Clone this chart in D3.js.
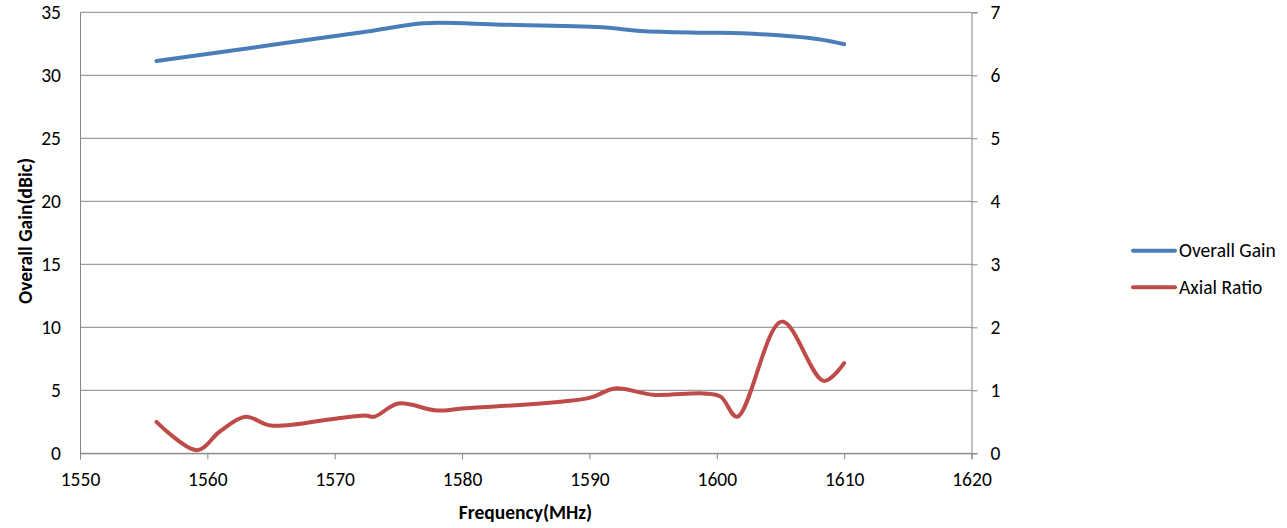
<!DOCTYPE html>
<html>
<head>
<meta charset="utf-8">
<script src="https://cdn.jsdelivr.net/npm/d3@7"></script>
<style>
  html, body { margin: 0; padding: 0; background: #fff; overflow: hidden; }
  svg { display: block; }
  svg text { font-family: Carlito, "Liberation Sans", Arial, sans-serif; fill: #000; }
</style>
</head>
<body>
<svg id="chart"></svg>
<script>
// values
const gainFreq = [1556, 1565, 1573, 1577, 1583, 1591, 1594, 1599, 1602, 1608, 1610];
const gainValues = [31.13, 32.4, 33.54, 34.13, 34.02, 33.81, 33.52, 33.38, 33.33, 32.86, 32.46];

const arFreq = [1556, 1559.2, 1561, 1563, 1565, 1570, 1572.4, 1573.1, 1575, 1578, 1580, 1590, 1592, 1595, 1599, 1600.3, 1601.6, 1605.1, 1608.4, 1610];
const arValues = [0.5, 0.05, 0.35, 0.58, 0.44, 0.55, 0.6, 0.58, 0.79, 0.68, 0.71, 0.88, 1.03, 0.93, 0.95, 0.9, 0.58, 2.09, 1.15, 1.43];

const xTicks = [1550, 1560, 1570, 1580, 1590, 1600, 1610, 1620];
const gainTicks = [0, 5, 10, 15, 20, 25, 30, 35];
const arTicks = [0, 1, 2, 3, 4, 5, 6, 7];

const seriesNames = ["Overall Gain", "Axial Ratio"];
const seriesColors = ["#4a7ebb", "#be4b48"];

const width = 1287, height = 528;
const margin = { top: 12.3, right: 315.5, bottom: 74.7, left: 80 };
const innerWidth = width - margin.left - margin.right,
  innerHeight = height - margin.top - margin.bottom;

const svg = d3.select("#chart").attr("width", width).attr("height", height);
const g = svg.append("g").attr("transform", `translate(${margin.left}, ${margin.top})`);

const xScale = d3.scaleLinear().domain([1550, 1620]).range([0, innerWidth]);
const yLeft = d3.scaleLinear().domain([0, 35]).range([innerHeight, 0]);
const yRight = d3.scaleLinear().domain([0, 7]).range([innerHeight, 0]);

const gridColor = "#868686";
const fontSize = "19.5px";

// gridlines
g.selectAll(".grid")
  .data(gainTicks)
  .join("line")
  .attr("class", "grid")
  .attr("x1", 0)
  .attr("x2", innerWidth)
  .attr("y1", (d) => yLeft(d))
  .attr("y2", (d) => yLeft(d))
  .attr("stroke", gridColor)
  .attr("stroke-width", 1);

// left axis
const leftAxis = g.append("g")
  .call(d3.axisLeft(yLeft).tickValues(gainTicks).tickSize(0).tickPadding(19));
leftAxis.select(".domain").attr("stroke", gridColor);
leftAxis.selectAll("text").style("font-size", fontSize);

// right axis
const rightAxis = g.append("g")
  .attr("transform", `translate(${innerWidth}, 0)`)
  .call(d3.axisRight(yRight).tickValues(arTicks).tickFormat(d3.format("d")).tickSize(6).tickPadding(13));
rightAxis.select(".domain").attr("stroke", gridColor);
rightAxis.selectAll("line").attr("stroke", gridColor);
rightAxis.selectAll("text").style("font-size", fontSize);

// bottom axis
const bottomAxis = g.append("g")
  .attr("transform", `translate(0, ${innerHeight})`)
  .call(d3.axisBottom(xScale).tickValues(xTicks).tickFormat(d3.format("d")).tickSize(6).tickPadding(13));
bottomAxis.select(".domain").attr("stroke", gridColor);
bottomAxis.selectAll("line").attr("stroke", gridColor);
bottomAxis.selectAll("text").style("font-size", fontSize);

svg.selectAll("path.domain").attr("fill", "none");

// axis titles
svg.append("text")
  .attr("transform", `translate(32, 231) rotate(-90)`)
  .attr("text-anchor", "middle")
  .style("font-size", fontSize)
  .style("font-weight", "bold")
  .text("Overall Gain(dBic)");

svg.append("text")
  .attr("x", 525.5)
  .attr("y", 519)
  .attr("text-anchor", "middle")
  .style("font-size", fontSize)
  .style("font-weight", "bold")
  .text("Frequency(MHz)");

// lines
const gainData = gainFreq.map((f, i) => ({ f, v: gainValues[i] }));
const arData = arFreq.map((f, i) => ({ f, v: arValues[i] }));

const lineGain = d3.line()
  .x((d) => xScale(d.f))
  .y((d) => yLeft(d.v))
  .curve(d3.curveCatmullRom.alpha(0.5));

const lineAR = d3.line()
  .x((d) => xScale(d.f))
  .y((d) => yRight(d.v))
  .curve(d3.curveCatmullRom.alpha(0.5));

g.append("path")
  .datum(gainData)
  .attr("d", lineGain)
  .attr("fill", "none")
  .attr("stroke", seriesColors[0])
  .attr("stroke-width", 4)
  .attr("stroke-linecap", "round")
  .attr("stroke-linejoin", "round");

g.append("path")
  .datum(arData)
  .attr("d", lineAR)
  .attr("fill", "none")
  .attr("stroke", seriesColors[1])
  .attr("stroke-width", 4)
  .attr("stroke-linecap", "round")
  .attr("stroke-linejoin", "round");

// legend
const legend = svg.append("g").attr("transform", "translate(1133, 250.7)");
const items = legend.selectAll(".legend-item")
  .data(seriesNames)
  .join("g")
  .attr("class", "legend-item")
  .attr("transform", (_, i) => `translate(0, ${i * 36.6})`);

items.append("line")
  .attr("x1", 0)
  .attr("x2", 42)
  .attr("stroke", (_, i) => seriesColors[i])
  .attr("stroke-width", 4)
  .attr("stroke-linecap", "round");

items.append("text")
  .attr("x", 46)
  .attr("dy", "0.34em")
  .style("font-size", fontSize)
  .text((d) => d);
</script>
</body>
</html>
